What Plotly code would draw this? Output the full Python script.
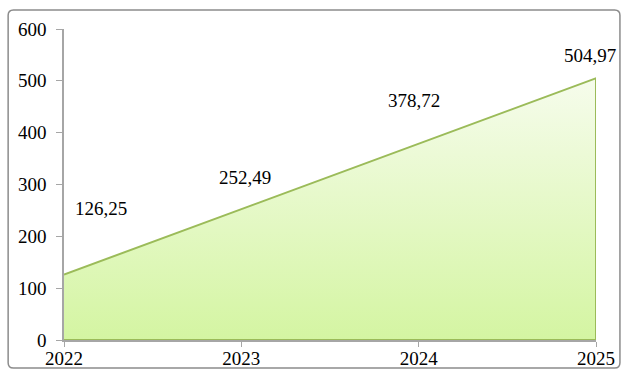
import plotly.graph_objects as go

years = ["2022", "2023", "2024", "2025"]
values = [126.25, 252.49, 378.72, 504.97]
y_ticks = [0, 100, 200, 300, 400, 500, 600]

# label offsets in pixels (x, y) relative to each point
label_shift = [(37, 66), (4, 32), (-5, 43), (-6, 23)]

line_color = "#9bbb59"
axis_color = "#a6a6a6"
font_family = "Liberation Serif"
font_size = 19

# closed outline: along the data, down the right edge, back along zero
poly_x = years + [years[-1], years[0]]
poly_y = values + [0, 0]

fig = go.Figure()
fig.add_trace(go.Scatter(
    x=poly_x, y=poly_y,
    mode="lines",
    fill="toself",
    fillgradient=dict(
        type="vertical",
        colorscale=[[0, "#d4f5a2"], [1, "#f6fcec"]],
    ),
    line=dict(color=line_color, width=2),
    hoverinfo="skip",
    showlegend=False,
))

# value labels; category positions given by index on the category axis
for i, (v, (dx, dy)) in enumerate(zip(values, label_shift)):
    fig.add_annotation(
        x=i, y=v, xref="x", yref="y",
        text=f"{v:.2f}".replace(".", ","),
        showarrow=False, xshift=dx, yshift=dy,
        font=dict(family=font_family, size=font_size, color="#000000"),
    )

# outer chart border with slightly rounded corners (paper coordinates)
x0, x1, y0, y1 = -0.105, 1.045, -0.090, 1.061
rx, ry = 0.010, 0.017
border_path = (
    f"M {x0 + rx},{y1} L {x1 - rx},{y1} Q {x1},{y1} {x1},{y1 - ry} "
    f"L {x1},{y0 + ry} Q {x1},{y0} {x1 - rx},{y0} "
    f"L {x0 + rx},{y0} Q {x0},{y0} {x0},{y0 + ry} "
    f"L {x0},{y1 - ry} Q {x0},{y1} {x0 + rx},{y1} Z"
)
fig.add_shape(
    type="path", xref="paper", yref="paper", path=border_path,
    line=dict(color="#8c8c8c", width=1.5),
    fillcolor="rgba(0,0,0,0)", layer="below",
)

fig.update_layout(
    width=629, height=377,
    margin=dict(l=64, r=33, t=29, b=37),
    paper_bgcolor="white", plot_bgcolor="white",
    font=dict(family=font_family, size=font_size, color="#000000"),
    xaxis=dict(
        type="category", categoryorder="array", categoryarray=years,
        range=[0, 3], showgrid=False, zeroline=False, automargin=False,
        showline=True, linecolor=axis_color, linewidth=1.5,
        ticks="outside", ticklen=5, tickcolor=axis_color,
        ticklabelstandoff=-5,
        tickfont=dict(family=font_family, size=font_size),
    ),
    yaxis=dict(
        range=[0, 600], tickvals=y_ticks, showgrid=False, zeroline=False,
        automargin=False,
        showline=True, linecolor=axis_color, linewidth=1.5,
        ticks="outside", ticklen=6, tickcolor=axis_color,
        ticklabelstandoff=6,
        tickfont=dict(family=font_family, size=font_size),
    ),
)

fig.write_html("out.html")
